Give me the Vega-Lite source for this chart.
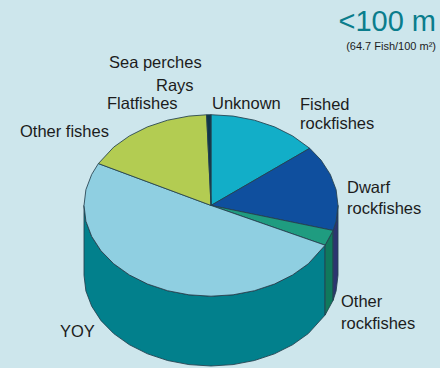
{"$schema":"https://vega.github.io/schema/vega-lite/v6.json","autosize":{"type":"fit","contains":"padding"},"width":440,"height":368,"background":"#cde6ec","padding":0,"view":{"stroke":null},
"datasets":{"shapes":[
{"s":"a YOY side","i":1,"x":325.1,"y":245.9},{"s":"a YOY side","i":2,"x":308.3,"y":264.5},{"s":"a YOY side","i":3,"x":292.6,"y":275.7},{"s":"a YOY side","i":4,"x":274.5,"y":284.8},{"s":"a YOY side","i":5,"x":254.4,"y":291.5},{"s":"a YOY side","i":6,"x":233.1,"y":295.6},{"s":"a YOY side","i":7,"x":211,"y":297},{"s":"a YOY side","i":8,"x":188.9,"y":295.6},{"s":"a YOY side","i":9,"x":167.6,"y":291.5},{"s":"a YOY side","i":10,"x":147.5,"y":284.8},{"s":"a YOY side","i":11,"x":129.4,"y":275.7},{"s":"a YOY side","i":12,"x":113.7,"y":264.5},{"s":"a YOY side","i":13,"x":101,"y":251.5},{"s":"a YOY side","i":14,"x":91.7,"y":237.1},{"s":"a YOY side","i":15,"x":85.9,"y":221.8},{"s":"a YOY side","i":16,"x":84,"y":206},{"s":"a YOY side","i":17,"x":84,"y":276},{"s":"a YOY side","i":18,"x":85.9,"y":291.8},{"s":"a YOY side","i":19,"x":91.7,"y":307.1},{"s":"a YOY side","i":20,"x":101,"y":321.5},{"s":"a YOY side","i":21,"x":113.7,"y":334.5},{"s":"a YOY side","i":22,"x":129.4,"y":345.7},{"s":"a YOY side","i":23,"x":147.5,"y":354.8},{"s":"a YOY side","i":24,"x":167.6,"y":361.5},{"s":"a YOY side","i":25,"x":188.9,"y":365.6},{"s":"a YOY side","i":26,"x":211,"y":367},{"s":"a YOY side","i":27,"x":233.1,"y":365.6},{"s":"a YOY side","i":28,"x":254.4,"y":361.5},{"s":"a YOY side","i":29,"x":274.5,"y":354.8},{"s":"a YOY side","i":30,"x":292.6,"y":345.7},{"s":"a YOY side","i":31,"x":308.3,"y":334.5},{"s":"a YOY side","i":32,"x":325.1,"y":315.9},{"s":"a YOY side","i":33,"x":325.1,"y":245.9},
{"s":"b Other rockfishes side","i":1,"x":333.1,"y":231.1},{"s":"b Other rockfishes side","i":2,"x":325.1,"y":245.9},{"s":"b Other rockfishes side","i":3,"x":325.1,"y":315.9},{"s":"b Other rockfishes side","i":4,"x":333.1,"y":301.1},{"s":"b Other rockfishes side","i":5,"x":333.1,"y":231.1},
{"s":"c Dwarf side","i":1,"x":338,"y":206},{"s":"c Dwarf side","i":2,"x":336.1,"y":221.8},{"s":"c Dwarf side","i":3,"x":333.1,"y":231.1},{"s":"c Dwarf side","i":4,"x":333.1,"y":301.1},{"s":"c Dwarf side","i":5,"x":336.1,"y":291.8},{"s":"c Dwarf side","i":6,"x":338,"y":276},{"s":"c Dwarf side","i":7,"x":338,"y":206},
{"s":"d Unknown","i":1,"x":211,"y":206},{"s":"d Unknown","i":2,"x":211,"y":115},{"s":"d Unknown","i":3,"x":233.1,"y":116.4},{"s":"d Unknown","i":4,"x":254.4,"y":120.5},{"s":"d Unknown","i":5,"x":274.5,"y":127.2},{"s":"d Unknown","i":6,"x":292.6,"y":136.3},{"s":"d Unknown","i":7,"x":309.7,"y":148.7},{"s":"d Unknown","i":8,"x":211,"y":206},
{"s":"e Fished","i":1,"x":211,"y":206},{"s":"e Fished","i":2,"x":309.7,"y":148.7},{"s":"e Fished","i":3,"x":321,"y":160.5},{"s":"e Fished","i":4,"x":330.3,"y":174.9},{"s":"e Fished","i":5,"x":336.1,"y":190.2},{"s":"e Fished","i":6,"x":338,"y":206},{"s":"e Fished","i":7,"x":336.1,"y":221.8},{"s":"e Fished","i":8,"x":333.1,"y":231.1},{"s":"e Fished","i":9,"x":211,"y":206},
{"s":"f Other rockfishes","i":1,"x":211,"y":206},{"s":"f Other rockfishes","i":2,"x":333.1,"y":231.1},{"s":"f Other rockfishes","i":3,"x":325.1,"y":245.9},{"s":"f Other rockfishes","i":4,"x":211,"y":206},
{"s":"g YOY","i":1,"x":211,"y":206},{"s":"g YOY","i":2,"x":325.1,"y":245.9},{"s":"g YOY","i":3,"x":308.3,"y":264.5},{"s":"g YOY","i":4,"x":292.6,"y":275.7},{"s":"g YOY","i":5,"x":274.5,"y":284.8},{"s":"g YOY","i":6,"x":254.4,"y":291.5},{"s":"g YOY","i":7,"x":233.1,"y":295.6},{"s":"g YOY","i":8,"x":211,"y":297},{"s":"g YOY","i":9,"x":188.9,"y":295.6},{"s":"g YOY","i":10,"x":167.6,"y":291.5},{"s":"g YOY","i":11,"x":147.5,"y":284.8},{"s":"g YOY","i":12,"x":129.4,"y":275.7},{"s":"g YOY","i":13,"x":113.7,"y":264.5},{"s":"g YOY","i":14,"x":101,"y":251.5},{"s":"g YOY","i":15,"x":91.7,"y":237.1},{"s":"g YOY","i":16,"x":85.9,"y":221.8},{"s":"g YOY","i":17,"x":84,"y":206},{"s":"g YOY","i":18,"x":85.9,"y":190.2},{"s":"g YOY","i":19,"x":91.7,"y":174.9},{"s":"g YOY","i":20,"x":98.4,"y":164},{"s":"g YOY","i":21,"x":211,"y":206},
{"s":"h Other fishes","i":1,"x":211,"y":206},{"s":"h Other fishes","i":2,"x":98.4,"y":164},{"s":"h Other fishes","i":3,"x":113.7,"y":147.5},{"s":"h Other fishes","i":4,"x":129.4,"y":136.3},{"s":"h Other fishes","i":5,"x":147.5,"y":127.2},{"s":"h Other fishes","i":6,"x":167.6,"y":120.5},{"s":"h Other fishes","i":7,"x":188.9,"y":116.4},{"s":"h Other fishes","i":8,"x":206.6,"y":115.1},{"s":"h Other fishes","i":9,"x":211,"y":206},
{"s":"i Sea perches, rays, flatfishes","i":1,"x":211,"y":206},{"s":"i Sea perches, rays, flatfishes","i":2,"x":206.6,"y":115.1},{"s":"i Sea perches, rays, flatfishes","i":3,"x":211,"y":115},{"s":"i Sea perches, rays, flatfishes","i":4,"x":211,"y":206}
],"labels":[
{"t":"Sea perches","x":109,"y":68},{"t":"Rays","x":156,"y":91},{"t":"Flatfishes","x":107,"y":109},{"t":"Other fishes","x":20,"y":137},{"t":"Unknown","x":212,"y":109},{"t":"Fished","x":300,"y":110},{"t":"rockfishes","x":300,"y":129},{"t":"Dwarf","x":347,"y":194},{"t":"rockfishes","x":347,"y":215},{"t":"Other","x":341,"y":308},{"t":"rockfishes","x":341,"y":330},{"t":"YOY","x":60,"y":338}
]},
"layer":[
{"data":{"name":"shapes"},"mark":{"type":"line","strokeWidth":1,"stroke":"#233f4e","strokeOpacity":0.85,"fillOpacity":1},
"encoding":{"x":{"field":"x","type":"quantitative","scale":{"domain":[0,440],"nice":false,"zero":false},"axis":null},"y":{"field":"y","type":"quantitative","scale":{"domain":[368,0],"nice":false,"zero":false},"axis":null},"order":{"field":"i","type":"quantitative"},"detail":{"field":"s"},
"fill":{"field":"s","type":"nominal","legend":null,"scale":{"domain":["a YOY side","b Other rockfishes side","c Dwarf side","d Unknown","e Fished","f Other rockfishes","g YOY","h Other fishes","i Sea perches, rays, flatfishes"],"range":["#02808c","#10795c","#2c3570","#12aec8","#0f4f9e","#1f9c80","#8fcfe1","#b3cc52","#10354a"]}}}},
{"data":{"name":"labels"},"mark":{"type":"text","align":"left","baseline":"alphabetic","font":"Liberation Sans","fontSize":16.5,"fill":"#1c1c1c"},
"encoding":{"x":{"field":"x","type":"quantitative","scale":{"domain":[0,440],"nice":false,"zero":false},"axis":null},"y":{"field":"y","type":"quantitative","scale":{"domain":[368,0],"nice":false,"zero":false},"axis":null},"text":{"field":"t"}}},
{"data":{"values":[{"t":"<100 m","x":436,"y":31}]},"mark":{"type":"text","align":"right","baseline":"alphabetic","font":"Liberation Sans","fontSize":29,"fill":"#0a7d8c"},
"encoding":{"x":{"field":"x","type":"quantitative","scale":{"domain":[0,440],"nice":false,"zero":false},"axis":null},"y":{"field":"y","type":"quantitative","scale":{"domain":[368,0],"nice":false,"zero":false},"axis":null},"text":{"field":"t"}}},
{"data":{"values":[{"t":"(64.7 Fish/100 m²)","x":436,"y":50}]},"mark":{"type":"text","align":"right","baseline":"alphabetic","font":"Liberation Sans","fontSize":11,"fill":"#1c1c1c"},
"encoding":{"x":{"field":"x","type":"quantitative","scale":{"domain":[0,440],"nice":false,"zero":false},"axis":null},"y":{"field":"y","type":"quantitative","scale":{"domain":[368,0],"nice":false,"zero":false},"axis":null},"text":{"field":"t"}}}
]}
